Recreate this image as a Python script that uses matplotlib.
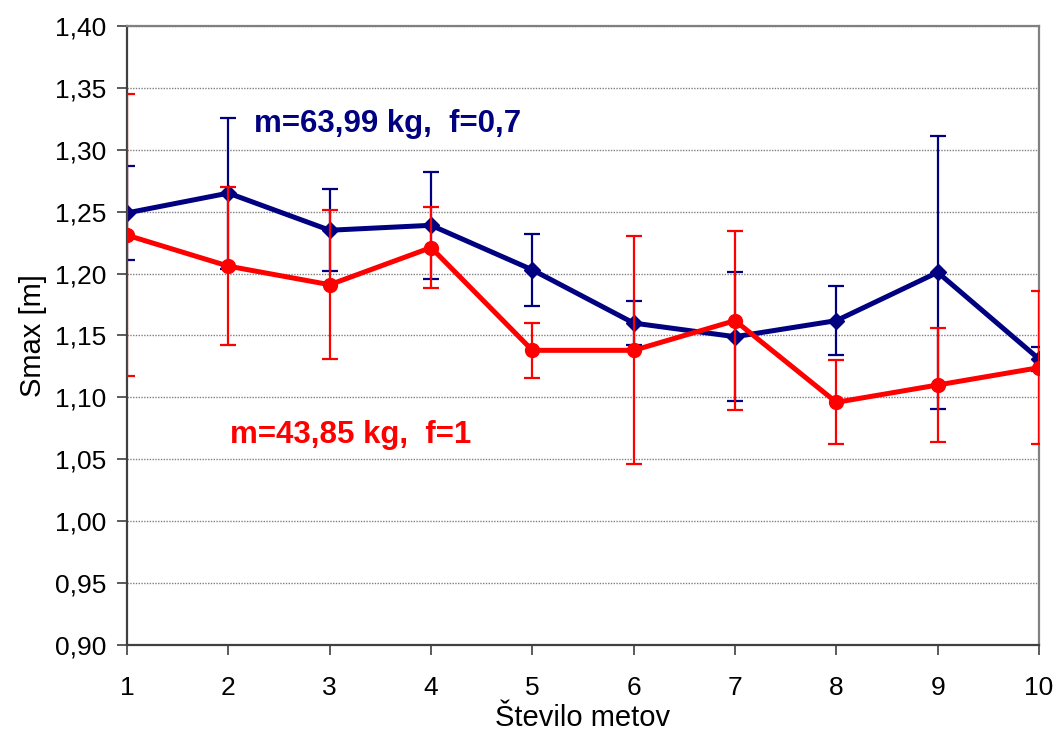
import matplotlib.pyplot as plt
from matplotlib.ticker import FuncFormatter
import numpy as np

plt.rcParams['font.family'] = ['Liberation Sans', 'DejaVu Sans']

meti = [1, 2, 3, 4, 5, 6, 7, 8, 9, 10]

# m=63,99 kg, f=0,7
smax_modra = [1.249, 1.265, 1.235, 1.239, 1.203, 1.160, 1.149, 1.162, 1.201, 1.131]
napaka_modra = [0.038, 0.061, 0.033, 0.043, 0.029, 0.018, 0.052, 0.028, 0.110, 0.010]

# m=43,85 kg, f=1
smax_rdeca = [1.231, 1.206, 1.191, 1.221, 1.138, 1.138, 1.162, 1.096, 1.110, 1.124]
napaka_rdeca = [0.114, 0.064, 0.060, 0.033, 0.022, 0.092, 0.072, 0.034, 0.046, 0.062]

oznaka_modra = 'm=63,99 kg,  f=0,7'
oznaka_rdeca = 'm=43,85 kg,  f=1'

modra = '#000080'
rdeca = '#FF0000'

fig = plt.figure(figsize=(10.57, 7.34), dpi=100)
ax = fig.add_axes([0.1202, 0.1213, 0.8628, 0.8433])

ax.errorbar(meti, smax_modra, yerr=napaka_modra, color=modra, linewidth=3.6,
            marker='D', markersize=8.5, elinewidth=1.6, capsize=6, capthick=1.6, zorder=3)
ax.errorbar(meti, smax_rdeca, yerr=napaka_rdeca, color=rdeca, linewidth=3.6,
            marker='o', markersize=10, elinewidth=1.6, capsize=6, capthick=1.6, zorder=4)

ax.text(0.139, 0.829, oznaka_modra, transform=ax.transAxes, color=modra,
        fontsize=22.5, fontweight='bold', va='baseline')
ax.text(0.113, 0.327, oznaka_rdeca, transform=ax.transAxes, color=rdeca,
        fontsize=22.5, fontweight='bold', va='baseline')

ax.set_xlim(1, 10)
ax.set_ylim(0.90, 1.40)
ax.set_xticks(meti)
ax.set_yticks(np.arange(0.90, 1.4001, 0.05))
ax.yaxis.set_major_formatter(FuncFormatter(lambda v, p: f'{v:.2f}'.replace('.', ',')))

ax.grid(axis='y', color='#808080', linestyle=(0, (1, 1)), linewidth=1.0)
ax.set_axisbelow(True)

for s in ['top', 'right']:
    ax.spines[s].set_color('#808080')
    ax.spines[s].set_linewidth(1.6)
for s in ['left', 'bottom']:
    ax.spines[s].set_color('#404040')
    ax.spines[s].set_linewidth(1.6)

ax.tick_params(axis='y', direction='out', length=7, width=1.2, pad=8, labelsize=19, color='#404040')
ax.tick_params(axis='x', direction='out', length=7, width=1.2, pad=15, labelsize=19, color='#404040')

ax.set_xlabel('Število metov', fontsize=21, labelpad=3)
ax.set_ylabel('Smax [m]', fontsize=21, labelpad=6)

fig.savefig('out.png', dpi=100)
plt.close()
